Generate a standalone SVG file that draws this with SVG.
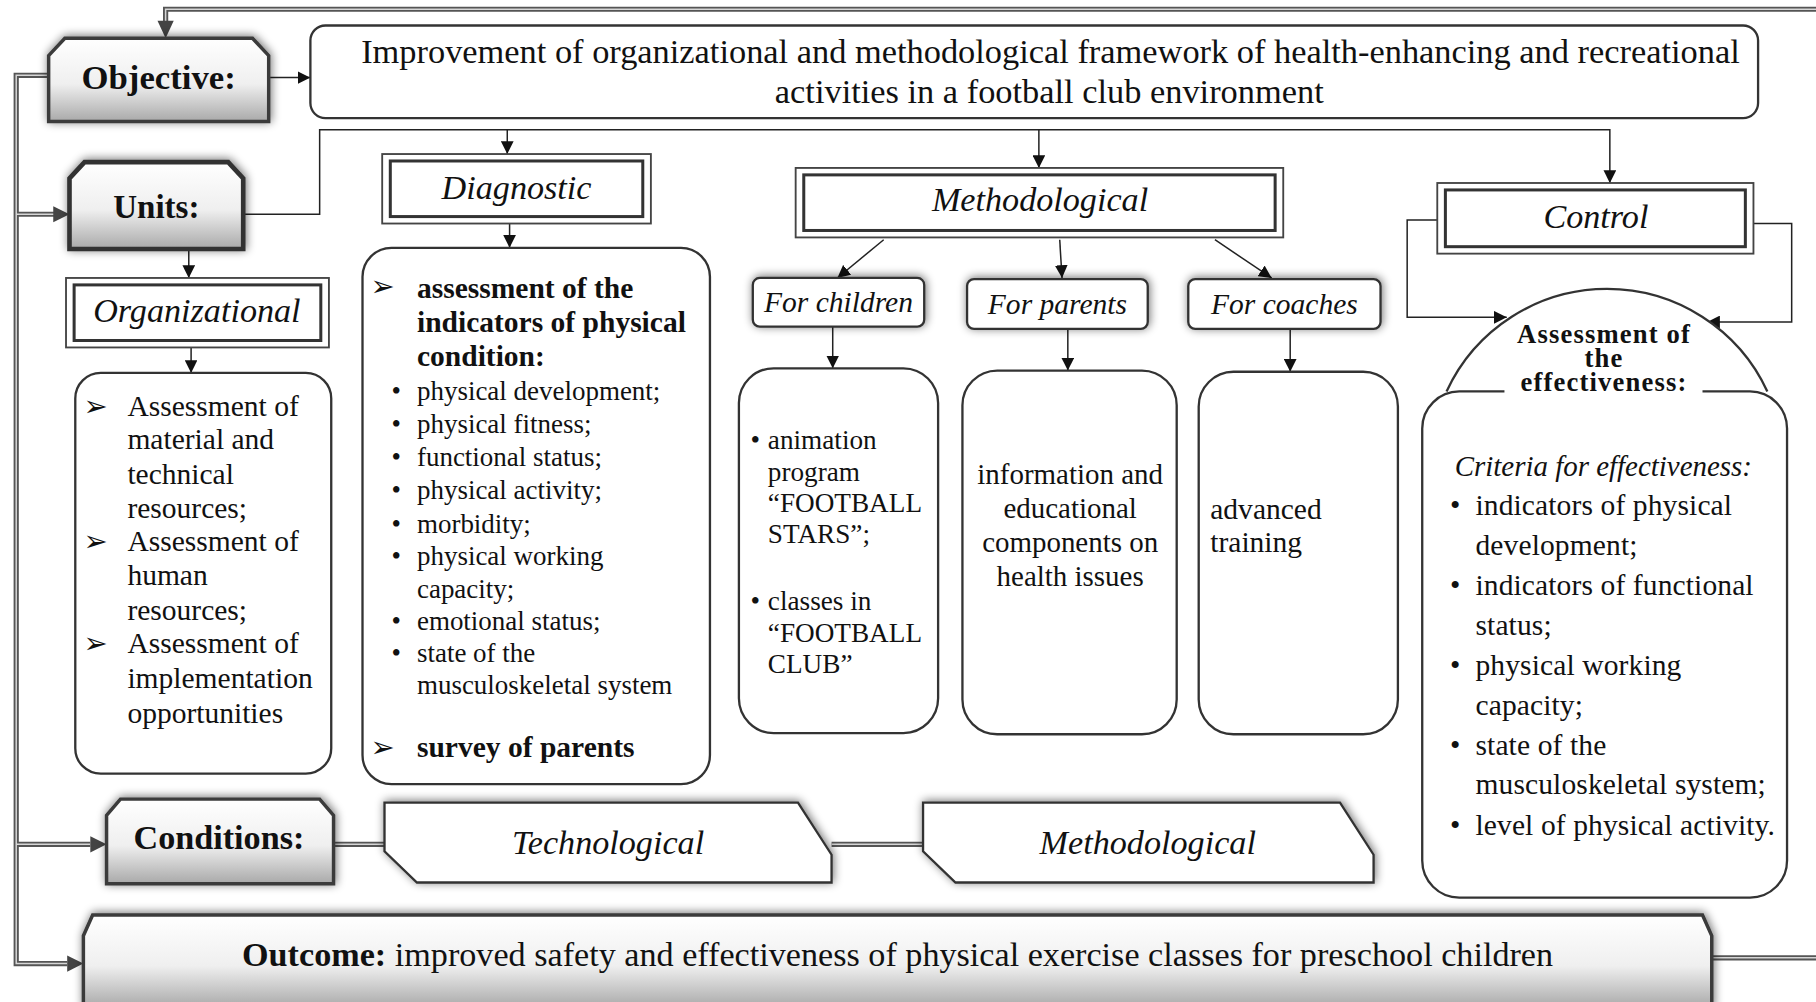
<svg xmlns="http://www.w3.org/2000/svg" width="1816" height="1002" viewBox="0 0 1816 1002">
<style>
text{font-family:"Liberation Serif","Times New Roman",serif;fill:#111}
.b{font-weight:bold}
.i{font-style:italic}
.hd{font-size:29.5px;font-style:italic;text-anchor:middle}
.thin{fill:none;stroke:#222;stroke-width:1.3}
.rb{fill:#fff;stroke:#333;stroke-width:2}
.o1{fill:#fff;stroke:#444;stroke-width:1.6}
.o2{fill:none;stroke:#333;stroke-width:2.6}
.bev{fill:url(#bevel);stroke:#3a3a3a;stroke-width:3}
.dl1{fill:none;stroke:#555;stroke-width:4.5}
.dl2{fill:none;stroke:#d6d6d6;stroke-width:1.3}
.big{fill:#444}
.arw{font-family:"DejaVu Sans",sans-serif;font-size:25px}
</style>
<defs>
<linearGradient id="bevel" x1="0" y1="0" x2="0" y2="1">
<stop offset="0" stop-color="#ffffff"/>
<stop offset="0.55" stop-color="#efefef"/>
<stop offset="1" stop-color="#a9a9a9"/>
</linearGradient>
<filter id="sh" x="-10%" y="-30%" width="120%" height="160%">
<feGaussianBlur in="SourceAlpha" stdDeviation="4"/>
<feOffset dx="1" dy="-1"/>
<feComponentTransfer><feFuncA type="linear" slope="0.55"/></feComponentTransfer>
<feMerge><feMergeNode/><feMergeNode in="SourceGraphic"/></feMerge>
</filter>
<marker id="ah" viewBox="0 0 10 10" refX="10" refY="5" markerWidth="11" markerHeight="11" markerUnits="userSpaceOnUse" orient="auto">
<path d="M0,0 L10,5 L0,10 z" fill="#111"/>
</marker>
</defs>
<g transform="scale(1.158163)">
<g id="connectors">
<path class="dl1" d="M1568,8 H143 V20"/>
<path class="dl2" d="M1568,8 H143 V20"/>
<polygon class="big" points="136,18 150,18 143,33"/>
<path class="dl1" d="M42,65 H14 V832 H58 M14,185 H48 M14,729 H78"/>
<path class="dl2" d="M42,65 H14 V832 H58 M14,185 H48 M14,729 H78"/>
<polygon class="big" points="46,178 46,192 60,185"/>
<polygon class="big" points="78,722 78,736 92,729"/>
<polygon class="big" points="58,825 58,839 72,832"/>
<path class="dl1" d="M1478,827 H1568 M288,729 H332 M718,729 H797"/>
<path class="dl2" d="M1478,827 H1568 M288,729 H332 M718,729 H797"/>
<path class="thin" d="M232,67 H268" marker-end="url(#ah)"/>
<path class="thin" d="M210,185 H276 V112 H1390 V158" marker-end="url(#ah)"/>
<path class="thin" d="M438,112 V133" marker-end="url(#ah)"/>
<path class="thin" d="M897,112 V145" marker-end="url(#ah)"/>
<path class="thin" d="M163,215 V240" marker-end="url(#ah)"/>
<path class="thin" d="M165,300 V322" marker-end="url(#ah)"/>
<path class="thin" d="M440,193 V214" marker-end="url(#ah)"/>
<path class="thin" d="M763,207 L723,240" marker-end="url(#ah)"/>
<path class="thin" d="M915,207 L917,240" marker-end="url(#ah)"/>
<path class="thin" d="M1049,207 L1098,240" marker-end="url(#ah)"/>
<path class="thin" d="M719,282 V318" marker-end="url(#ah)"/>
<path class="thin" d="M922,284 V320" marker-end="url(#ah)"/>
<path class="thin" d="M1114,284 V321" marker-end="url(#ah)"/>
<path class="thin" d="M1241,190 H1215 V274 H1301" marker-end="url(#ah)"/>
<path class="thin" d="M1514,193 H1547 V278 H1474" marker-end="url(#ah)"/>
</g>

<g id="objective">
<polygon class="bev" filter="url(#sh)" points="42,48 56,33 218,33 232,48 232,105 42,105"/>
<text class="b" x="137" y="77" font-size="30" text-anchor="middle">Objective:</text>
</g>

<g id="goal">
<rect class="rb" x="268" y="22" width="1250" height="80" rx="13"/>
<text x="907" y="54" font-size="29.7" text-anchor="middle">Improvement of organizational and methodological framework of health-enhancing and recreational</text>
<text x="906" y="89" font-size="29.7" text-anchor="middle">activities in a football club environment</text>
</g>

<g id="units">
<polygon class="bev" filter="url(#sh)" style="stroke-width:4;stroke:#333" points="60,154 73,140 197,140 210,154 210,215 60,215"/>
<text class="b" x="135" y="188" font-size="28.5" text-anchor="middle">Units:</text>
</g>

<g id="organizational">
<rect class="o1" x="57" y="240" width="227" height="60"/>
<rect class="o2" x="64" y="246" width="213" height="48"/>
<text class="hd" x="170" y="278">Organizational</text>
</g>

<g id="org-list">
<rect class="rb" x="65" y="322" width="221" height="346" rx="22"/>
<g font-size="25.5">
<text class="arw" x="72" y="359">➢</text>
<text x="110" y="359">Assessment of</text>
<text x="110" y="388">material and</text>
<text x="110" y="418">technical</text>
<text x="110" y="447">resources;</text>
<text class="arw" x="72" y="476">➢</text>
<text x="110" y="476">Assessment of</text>
<text x="110" y="505">human</text>
<text x="110" y="535">resources;</text>
<text class="arw" x="72" y="564">➢</text>
<text x="110" y="564">Assessment of</text>
<text x="110" y="594">implementation</text>
<text x="110" y="624">opportunities</text>
</g>
</g>

<g id="diagnostic">
<rect class="o1" x="330" y="133" width="232" height="60"/>
<rect class="o2" x="337" y="139" width="218" height="48"/>
<text class="hd" x="446" y="172">Diagnostic</text>
</g>

<g id="diag-list">
<rect class="rb" x="313" y="214" width="300" height="463" rx="25"/>
<text class="arw" x="320" y="256">➢</text>
<g class="b" font-size="25.5">
<text x="360" y="257">assessment of the</text>
<text x="360" y="287">indicators of physical</text>
<text x="360" y="316">condition:</text>
</g>
<g font-size="23.3">
<text x="338" y="345">•</text><text x="360" y="345">physical development;</text>
<text x="338" y="374">•</text><text x="360" y="374">physical fitness;</text>
<text x="338" y="402">•</text><text x="360" y="402">functional status;</text>
<text x="338" y="431">•</text><text x="360" y="431">physical activity;</text>
<text x="338" y="460">•</text><text x="360" y="460">morbidity;</text>
<text x="338" y="488">•</text><text x="360" y="488">physical working</text>
<text x="360" y="516">capacity;</text>
<text x="338" y="544">•</text><text x="360" y="544">emotional status;</text>
<text x="338" y="572">•</text><text x="360" y="572">state of the</text>
<text x="360" y="599">musculoskeletal system</text>
</g>
<text class="arw" x="320" y="654">➢</text>
<text class="b" x="360" y="654" font-size="25.5">survey of parents</text>
</g>

<g id="methodological">
<rect class="o1" x="687" y="145" width="421" height="60"/>
<rect class="o2" x="694" y="151" width="407" height="48"/>
<text class="hd" x="898" y="182">Methodological</text>
</g>

<g id="for-children">
<rect class="rb" filter="url(#sh)" x="650" y="240" width="148" height="42" rx="6"/>
<text class="i" x="724" y="269" font-size="25.5" text-anchor="middle">For children</text>
</g>
<g id="for-parents">
<rect class="rb" filter="url(#sh)" x="835" y="241" width="156" height="43" rx="6"/>
<text class="i" x="913" y="271" font-size="25.5" text-anchor="middle">For parents</text>
</g>
<g id="for-coaches">
<rect class="rb" filter="url(#sh)" x="1026" y="241" width="166" height="43" rx="6"/>
<text class="i" x="1109" y="271" font-size="25.5" text-anchor="middle">For coaches</text>
</g>

<g id="children-box">
<rect class="rb" x="638" y="318" width="172" height="315" rx="30"/>
<g font-size="23.5">
<text x="648" y="388">•</text><text x="663" y="388">animation</text>
<text x="663" y="415">program</text>
<text x="663" y="442">“FOOTBALL</text>
<text x="663" y="469">STARS”;</text>
<text x="648" y="527">•</text><text x="663" y="527">classes in</text>
<text x="663" y="554">“FOOTBALL</text>
<text x="663" y="581">CLUB”</text>
</g>
</g>

<g id="parents-box">
<rect class="rb" x="831" y="320" width="185" height="314" rx="30"/>
<g font-size="25" text-anchor="middle">
<text x="924" y="418">information and</text>
<text x="924" y="447">educational</text>
<text x="924" y="477">components on</text>
<text x="924" y="506">health issues</text>
</g>
</g>

<g id="coaches-box">
<rect class="rb" x="1035" y="321" width="172" height="313" rx="30"/>
<text x="1045" y="448" font-size="25.5">advanced</text>
<text x="1045" y="477" font-size="25.5">training</text>
</g>

<g id="control">
<rect class="o1" x="1241" y="158" width="273" height="61"/>
<rect class="o2" x="1248" y="164" width="259" height="49"/>
<text class="hd" x="1378" y="197">Control</text>
</g>

<g id="effectiveness">
<path d="M1249,338 A152.6,152.6 0 0 1 1526,338" fill="#fff" stroke="#333" stroke-width="2"/>
<rect class="rb" x="1228" y="338" width="315" height="437" rx="32"/>
<rect x="1299" y="330" width="171" height="14" fill="#fff"/>
<g class="b" font-size="23" text-anchor="middle" letter-spacing="1">
<text x="1385" y="296">Assessment of</text>
<text x="1385" y="317">the</text>
<text x="1385" y="338">effectiveness:</text>
</g>
<text class="i" x="1256" y="411" font-size="25">Criteria for effectiveness:</text>
<g font-size="25.5" letter-spacing="0.1">
<text x="1252" y="445">•</text><text x="1274" y="445">indicators of physical</text>
<text x="1274" y="479">development;</text>
<text x="1252" y="514">•</text><text x="1274" y="514">indicators of functional</text>
<text x="1274" y="548">status;</text>
<text x="1252" y="583">•</text><text x="1274" y="583">physical working</text>
<text x="1274" y="617">capacity;</text>
<text x="1252" y="652">•</text><text x="1274" y="652">state of the</text>
<text x="1274" y="686">musculoskeletal system;</text>
<text x="1252" y="721">•</text><text x="1274" y="721">level of physical activity.</text>
</g>
</g>

<g id="conditions">
<polygon class="bev" filter="url(#sh)" points="92,704 104,690 276,690 288,704 288,763 92,763"/>
<text class="b" x="189" y="733" font-size="29.5" text-anchor="middle">Conditions:</text>
</g>

<g id="technological">
<polygon fill="#fff" stroke="#333" stroke-width="2" filter="url(#sh)" points="332,693 689,693 718,738 718,762 360,762 332,735"/>
<text class="hd" x="525" y="737">Technological</text>
</g>

<g id="methodological-cond">
<polygon fill="#fff" stroke="#333" stroke-width="2" filter="url(#sh)" points="797,693 1157,693 1186,738 1186,762 825,762 797,735"/>
<text class="hd" x="991" y="737">Methodological</text>
</g>

<g id="outcome">
<polygon class="bev" filter="url(#sh)" points="72,808 80,790 1470,790 1478,808 1478,870 72,870"/>
<text x="775" y="834" font-size="29.5" text-anchor="middle"><tspan class="b">Outcome:</tspan> improved safety and effectiveness of physical exercise classes for preschool children</text>
</g>
</g>
</svg>
